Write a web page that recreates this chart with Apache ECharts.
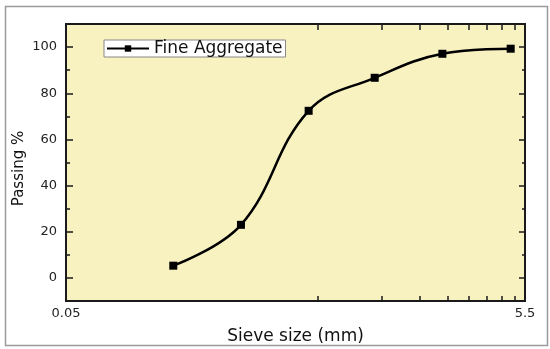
<!DOCTYPE html>
<html>
<head>
<meta charset="utf-8">
<script src="https://cdn.jsdelivr.net/npm/echarts@6/dist/echarts.min.js"></script>
<style>html,body{margin:0;padding:0;background:#fff;}#c{width:550px;height:349px;}</style>
</head>
<body>
<div id="c"></div>
<script>
// Data
const sieveSizes = [0.15, 0.3, 0.6, 1.18, 2.36, 4.75];
const passing = [5.3, 23.0, 72.4, 86.7, 97.1, 99.3];
const seriesName = 'Fine Aggregate';
const xLabelValues = [0.05, 5.5];
const xTickValues = [0.66, 1.27, 1.88, 2.49, 3.10, 3.71, 4.32, 4.93];
const yLabelValues = [0, 20, 40, 60, 80, 100];
const yMinorValues = [10, 30, 50, 70, 90];

const chart = echarts.init(document.getElementById('c'), null, {renderer: 'canvas'});
const font = 'DejaVu Sans, Arial, sans-serif';
const xBase = {type: 'log', logBase: 10, min: 0.05, max: 5.5, gridIndex: 0};
const yBase = {type: 'value', min: -10, max: 110, splitLine: {show: false}};
const lineStyle = {color: '#1a1a1a', width: 2};

const option = {
  animation: false,
  backgroundColor: '#fff',
  graphic: [{
    type: 'rect', left: 3, top: 4, shape: {width: 542, height: 339},
    style: {fill: 'none', stroke: '#9a9a9a', lineWidth: 1.5}, z: -1
  }],
  grid: {left: 66, top: 24, right: 25, bottom: 48, outerBoundsMode: 'none', containLabel: false,
    show: true, backgroundColor: '#F8F1C0', borderColor: '#1a1a1a', borderWidth: 2},
  legend: {
    left: 104, top: 40, data: [seriesName],
    backgroundColor: '#fff', borderColor: '#888', borderWidth: 1,
    padding: [0, 3, 0, 2], itemWidth: 42, itemHeight: 8, itemGap: 6,
    textStyle: {fontFamily: font, fontSize: 17, color: '#111'}
  },
  xAxis: [
    Object.assign({}, xBase, {
      position: 'bottom',
      name: 'Sieve size (mm)', nameLocation: 'middle', nameGap: 27, nameMoveOverlap: false,
      nameTextStyle: {fontFamily: font, fontSize: 17, color: '#111'},
      axisLine: {show: true, onZero: false, lineStyle: lineStyle},
      axisTick: {show: true, inside: true, length: 5, customValues: xTickValues, lineStyle: {color: '#1a1a1a', width: 1.5}},
      axisLabel: {show: true, customValues: xLabelValues, margin: 6, fontFamily: font, fontSize: 13, color: '#222',
        formatter: v => String(+(+v).toPrecision(3))},
      splitLine: {show: false}, minorTick: {show: false}
    }),
    Object.assign({}, xBase, {
      position: 'top',
      axisLine: {show: true, onZero: false, lineStyle: lineStyle},
      axisTick: {show: true, inside: true, length: 6, customValues: xTickValues, lineStyle: {color: '#1a1a1a', width: 1.5}},
      axisLabel: {show: false},
      splitLine: {show: false}
    })
  ],
  yAxis: [
    Object.assign({}, yBase, {
      position: 'left',
      name: 'Passing %', nameLocation: 'middle', nameGap: 39, nameRotate: 90, nameMoveOverlap: false,
      nameTextStyle: {fontFamily: font, fontSize: 15, color: '#111', padding: [0, 12, 0, 0]},
      axisLine: {show: true, onZero: false, lineStyle: lineStyle},
      axisTick: {show: true, inside: true, length: 7, customValues: yLabelValues, lineStyle: {color: '#1a1a1a', width: 1.5}},
      axisLabel: {show: true, customValues: yLabelValues, margin: 9, fontFamily: font, fontSize: 13, color: '#222'}
    }),
    Object.assign({}, yBase, {
      position: 'left',
      axisLine: {show: false},
      axisTick: {show: true, inside: true, length: 4, customValues: yMinorValues, lineStyle: {color: '#1a1a1a', width: 1.5}},
      axisLabel: {show: false}
    }),
    Object.assign({}, yBase, {
      position: 'right',
      axisLine: {show: true, onZero: false, lineStyle: lineStyle},
      axisTick: {show: true, inside: true, length: 6, customValues: yLabelValues, lineStyle: {color: '#1a1a1a', width: 1.5}},
      axisLabel: {show: false}
    }),
    Object.assign({}, yBase, {
      position: 'right',
      axisLine: {show: false},
      axisTick: {show: true, inside: true, length: 3, customValues: yMinorValues, lineStyle: {color: '#1a1a1a', width: 1.5}},
      axisLabel: {show: false}
    })
  ],
  series: [{
    name: seriesName,
    type: 'line',
    xAxisIndex: 0, yAxisIndex: 0,
    data: sieveSizes.map((s, i) => [s, passing[i]]),
    smooth: 0.4,
    symbol: 'rect', symbolSize: 8,
    itemStyle: {color: '#000'},
    lineStyle: {color: '#000', width: 2.5}
  }]
};
chart.setOption(option);
</script>
</body>
</html>
